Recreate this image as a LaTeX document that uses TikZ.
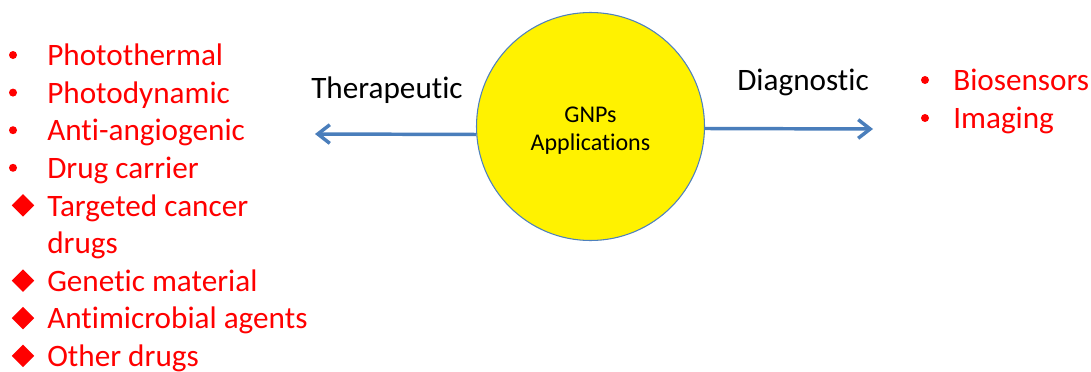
\documentclass[tikz,border=0pt]{standalone}
\usepackage{fontspec}
\setmainfont{Carlito}[Ligatures=CommonOff]
\usetikzlibrary{arrows.meta,shapes.geometric}
\definecolor{arrblue}{RGB}{74,126,187}
\definecolor{rimblue}{RGB}{79,129,189}

\begin{document}
\begin{tikzpicture}[x=0.75pt,y=-0.75pt,
    item/.style = {text = red, anchor = base west, inner sep = 0pt,
                   font = \fontsize{23.4}{28}\selectfont},
    head/.style = {text = black, anchor = base west, inner sep = 0pt,
                   font = \fontsize{23.4}{28}\selectfont},
    dot/.style = {circle, fill = red, inner sep = 0pt, minimum size = 6pt},
    mark diamond/.style = {diamond, fill = red, inner sep = 0pt,
                   minimum width = 17pt, minimum height = 17pt},
    link/.style = {draw = arrblue, line width = 2.6pt,
                   -{Straight Barb[length = 9pt, width = 14pt]}}]

    \useasboundingbox (0,0) rectangle (1091,371);

    % centre circle
    \node[circle,
          draw = rimblue,
          fill = yellow,
          line width = 0.8pt,
          minimum size = 171pt,
          inner sep = 0pt
          ] (gnp) at (590.5,126.5) {};
    \node[anchor = base, font = \fontsize{18}{22}\selectfont] (gnp1) at (590.5,122) {GNPs};
    \node[anchor = base, font = \fontsize{18}{22}\selectfont] (gnp2) at (590.5,150) {Applications};

    % branch labels
    \node[head] (ther) at (311,98) {Therapeutic};
    \node[head] (diag) at (737,90) {Diagnostic};

    \coordinate (therend) at (315,134);
    \coordinate (diagend) at (873,129);

    % therapeutic list
    \node[dot] (b1) at (13,55) {};
    \node[item] (t1) at (47,65.7) {Photothermal};
    \node[dot] (b2) at (13,92.6) {};
    \node[item] (t2) at (47,103.3) {Photodynamic};
    \node[dot] (b3) at (13,130.2) {};
    \node[item] (t3) at (47,140.9) {Anti-angiogenic};
    \node[dot] (b4) at (13,167.8) {};
    \node[item] (t4) at (47,178.5) {Drug carrier};
    \node[mark diamond] (d1) at (23,205.4) {};
    \node[item] (t5) at (47,216.1) {Targeted cancer};
    \node[item] (t5b) at (47,253.7) {drugs};
    \node[mark diamond] (d2) at (23,280.6) {};
    \node[item] (t6) at (47,291.3) {Genetic material};
    \node[mark diamond] (d3) at (23,318.2) {};
    \node[item] (t7) at (47,328.9) {Antimicrobial agents};
    \node[mark diamond] (d4) at (23,355.8) {};
    \node[item] (t8) at (47,366.5) {Other drugs};

    % diagnostic list
    \node[dot] (b5) at (925,80) {};
    \node[item] (r1) at (953,90) {Biosensors};
    \node[dot] (b6) at (925,118) {};
    \node[item] (r2) at (953,128) {Imaging};

    \path
    (gnp.184) edge [link] (therend)
    (gnp.-1) edge [link] (diagend);

\end{tikzpicture}
\end{document}
